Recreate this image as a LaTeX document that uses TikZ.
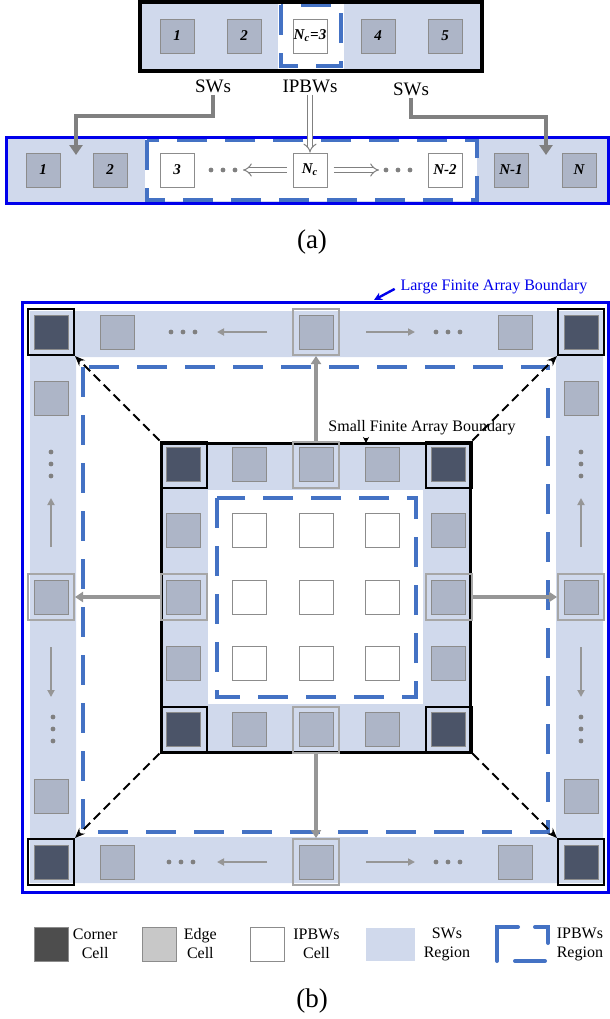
\documentclass[tikz,border=0pt]{standalone}
\usepackage{fontspec}
\setmainfont{Liberation Serif}
\usetikzlibrary{arrows.meta, positioning}
\definecolor{swblue}{RGB}{208,217,236}
\definecolor{cellgray}{RGB}{173,181,199}
\definecolor{cornerdark}{RGB}{75,84,104}
\definecolor{ipbblue}{RGB}{68,114,196}
\definecolor{bndblue}{RGB}{0,0,235}
\definecolor{arrgray}{RGB}{150,150,150}
\definecolor{leggray}{RGB}{200,200,200}
\definecolor{legdark}{RGB}{77,77,77}
\tikzset{
    basecell/.style={rectangle, minimum size=17pt, inner sep=0pt, draw=gray!90, line width=0.5pt, font=\fontsize{7.5}{9}\selectfont\bfseries\itshape},
    edgecell/.style={basecell, fill=cellgray},
    cornercell/.style={basecell, fill=cornerdark},
    ipbcell/.style={basecell, fill=white},
    cframe/.style={rectangle, minimum size=23pt, inner sep=0pt, draw=black, line width=1pt},
    gframe/.style={rectangle, minimum size=23pt, inner sep=0pt, draw=gray!70, line width=1pt},
    ipbregion/.style={draw=ipbblue, line width=1.6pt, dash pattern=on 15pt off 9pt},
    swarrow/.style={draw=gray, line width=2.2pt, -{Triangle[length=5pt,width=6.5pt]}},
    hollow/.style={draw=gray, double=white, double distance=1.8pt, line width=0.5pt, -{Implies}},
    spread/.style={draw=arrgray, line width=2pt, -{Triangle[length=4pt,width=5pt]}},
    ringarrow/.style={draw=arrgray, line width=0.9pt, -{Triangle[length=3.5pt,width=3.5pt]}},
    mapping/.style={draw=black, line width=1pt, dash pattern=on 4.5pt off 2.5pt, -{Stealth[length=5pt,width=4pt]}},
    lbl/.style={font=\fontsize{9.5}{11}\selectfont, inner sep=1pt},
    note/.style={font=\fontsize{8}{9.5}\selectfont, inner sep=1pt},
    legtext/.style={font=\fontsize{8}{9.5}\selectfont, align=center, inner sep=0pt},
    caption/.style={font=\fontsize{13.5}{15}\selectfont},
    hdotrow/.pic={\foreach \d in {-12,0,12} \fill[gray] (\d,0) circle (1.2pt);},
    vdotrow/.pic={\foreach \d in {-12,0,12} \fill[gray] (0,\d) circle (1.2pt);}
}

\begin{document}
\begin{tikzpicture}[x=0.5pt, y=-0.5pt]
    \useasboundingbox (0,0) rectangle (610,1019);

    % ---------- (a) ----------
    \fill[swblue] (140,2) rectangle (482,71);
    \fill[white] (278,4) rectangle (344,69);
    \draw[ipbregion] (281,5) rectangle (341,66);
    \draw[line width=2pt] (140,2) rectangle (482,71);
    \node[edgecell] (t1) at (177,36) {1};
    \node[edgecell] (t2) at (244,36) {2};
    \node[ipbcell] (tnc) at (310,36) {N\textsubscript{c}=3};
    \node[edgecell] (t4) at (378,36) {4};
    \node[edgecell] (t5) at (445,36) {5};

    \node[lbl] (swl) at (213,86) {SWs};
    \node[lbl] (ipl) at (310,86) {IPBWs};
    \node[lbl] (swr) at (411,89) {SWs};

    \fill[swblue] (6,137) rectangle (608,203);
    \fill[white] (145,139) rectangle (477,201);
    \draw[ipbregion] (147,140) rectangle (477,200);
    \draw[bndblue, line width=1.5pt] (6,137) rectangle (608,203);
    \node[edgecell] (b1) at (43,170) {1};
    \node[edgecell] (b2) at (110,170) {2};
    \node[ipbcell] (b3) at (177,170) {3};
    \node[ipbcell] (bnc) at (310,170) {N\textsubscript{c}};
    \node[ipbcell] (bn2) at (445,170) {N-2};
    \node[edgecell] (bn1) at (511,170) {N-1};
    \node[edgecell] (bn) at (579,170) {N};
    \pic (bdl) at (223,170) {hdotrow};
    \pic (bdr) at (398,170) {hdotrow};

    \coordinate (tipl) at (76,155);
    \coordinate (tipr) at (546,155);
    \coordinate (hl) at (243,170);
    \coordinate (hr) at (379,170);
    \draw[swarrow] (swl.south) -- ++(0,21) -| (tipl);
    \draw[swarrow] (swr.south) -- ++(0,19) -| (tipr);
    \draw[hollow] (ipl.south) -- (bnc.north);
    \draw[hollow, shorten <=3pt] (bnc.west) -- (hl);
    \draw[hollow, shorten <=3pt] (bnc.east) -- (hr);

    \node[caption] (capa) at (312,242) {(a)};

    % ---------- (b) ----------
    \draw[bndblue, line width=1.5pt] (22,302) rectangle (608,892);
    \fill[swblue, even odd rule] (30,311) rectangle (603,883) (76,357) rectangle (556,837);
    \draw[ipbregion] (83,367) rectangle (548,832);
    \fill[swblue] (161,443) rectangle (470,752);
    \fill[white] (208,490) rectangle (423,704);
    \draw[ipbregion] (217,498) rectangle (416,697);
    \draw[line width=1.5pt] (161,443) rectangle (470,752);

    % large array ring
    \foreach \cx/\cy/\nm in {51/332/lnw, 581/332/lne, 51/862/lsw, 581/862/lse} {
        \node[cornercell] (\nm c) at (\cx,\cy) {};
        \node[cframe] (\nm) at (\cx,\cy) {};
    }
    \foreach \cx/\cy [count=\i] in {117/332, 515/332, 117/862, 515/862, 51/398, 51/796, 581/398, 581/796}
        \node[edgecell] (lring\i) at (\cx,\cy) {};
    \foreach \cx/\cy/\nm in {316/332/ln, 51/597/lw, 581/597/le, 316/862/ls} {
        \node[edgecell] (\nm c) at (\cx,\cy) {};
        \node[gframe] (\nm) at (\cx,\cy) {};
    }
    \foreach \ax/\ay/\bx/\by in {267/332/217/332, 366/332/415/332, 267/862/217/862, 366/862/415/862,
        51/547/51/498, 51/647/51/697, 581/547/581/498, 581/647/581/697}
        \draw[ringarrow] (\ax,\ay) -- (\bx,\by);
    \pic (dt1) at (183,332) {hdotrow};
    \pic (dt2) at (448,332) {hdotrow};
    \pic (db1) at (181,862) {hdotrow};
    \pic (db2) at (448,862) {hdotrow};
    \pic (dl1) at (51,464) {vdotrow};
    \pic (dl2) at (53,729) {vdotrow};
    \pic (dr1) at (581,464) {vdotrow};
    \pic (dr2) at (581,729) {vdotrow};

    % small array
    \foreach \i/\j/\nm in {0/0/snw, 4/0/sne, 0/4/ssw, 4/4/sse} {
        \node[cornercell] (\nm c) at (183.5+66.25*\i, 464.5+66.25*\j) {};
        \node[cframe] (\nm) at (183.5+66.25*\i, 464.5+66.25*\j) {};
    }
    \foreach \k in {1,3} {
        \node[edgecell] (st\k) at (183.5+66.25*\k, 464.5) {};
        \node[edgecell] (sb\k) at (183.5+66.25*\k, 729.5) {};
        \node[edgecell] (sl\k) at (183.5, 464.5+66.25*\k) {};
        \node[edgecell] (sr\k) at (448.5, 464.5+66.25*\k) {};
    }
    \foreach \i/\j/\nm in {2/0/sn, 0/2/sw, 4/2/se, 2/4/ss} {
        \node[edgecell] (\nm c) at (183.5+66.25*\i, 464.5+66.25*\j) {};
        \node[gframe] (\nm) at (183.5+66.25*\i, 464.5+66.25*\j) {};
    }
    \foreach \i in {1,2,3}
        \foreach \j in {1,2,3}
            \node[ipbcell] (si\i\j) at (183.5+66.25*\i, 464.5+66.25*\j) {};

    % mapping small -> large
    \draw[spread] (sn) -- (ln);
    \draw[spread] (sw) -- (lw);
    \draw[spread] (se) -- (le);
    \draw[spread] (ss) -- (ls);
    \draw[mapping] (snw.north west) -- (lnw.south east);
    \draw[mapping] (sne.north east) -- (lne.south west);
    \draw[mapping] (ssw.south west) -- (lsw.north east);
    \draw[mapping] (sse.south east) -- (lse.north west);

    \node[note, text=bndblue] (lfab) at (494,287) {Large Finite Array Boundary};
    \coordinate (lfabtip) at (374,300);
    \draw[bndblue, line width=1.2pt, shorten <=2pt, -{Stealth[length=4pt,width=4pt]}] (lfab.west) -- (lfabtip);
    \node[note] (sfab) at (422,428) {Small Finite Array Boundary};
    \coordinate (sfabtip) at (366,443);
    \draw[line width=0.6pt, -{Stealth[length=3pt,width=3pt]}] (sfab.south -| sfabtip) -- (sfabtip);

    % legend
    \node[basecell, fill=legdark] (lgc) at (51,944) {};
    \node[legtext, right=2pt of lgc] (lgct) {Corner\\Cell};
    \node[basecell, fill=leggray] (lge) at (159,944) {};
    \node[legtext, right=3.5pt of lge] (lget) {Edge\\Cell};
    \node[basecell, fill=white] (lgi) at (267.5,944) {};
    \node[legtext, right=4pt of lgi] (lgit) {IPBWs\\Cell};
    \node[rectangle, fill=swblue, minimum width=24.5pt, minimum height=16.5pt, inner sep=0pt] (lgs) at (390.5,944) {};
    \node[legtext, right=4pt of lgs] (lgst) {SWs\\Region};
    \node[rectangle, minimum width=25.5pt, minimum height=17pt, inner sep=0pt] (lgr) at (522.5,944) {};
    \draw[ipbblue, line width=2pt, line cap=round] (518,927) -- (497,927) -- (497,961);
    \draw[ipbblue, line width=2pt, line cap=round] (535,927) -- (548,927) -- (548,943);
    \draw[ipbblue, line width=2pt, line cap=round] (515,961) -- (545,961);
    \node[legtext, right=4pt of lgr] (lgrt) {IPBWs\\Region};

    \node[caption] (capb) at (312,1001) {(b)};
\end{tikzpicture}
\end{document}
